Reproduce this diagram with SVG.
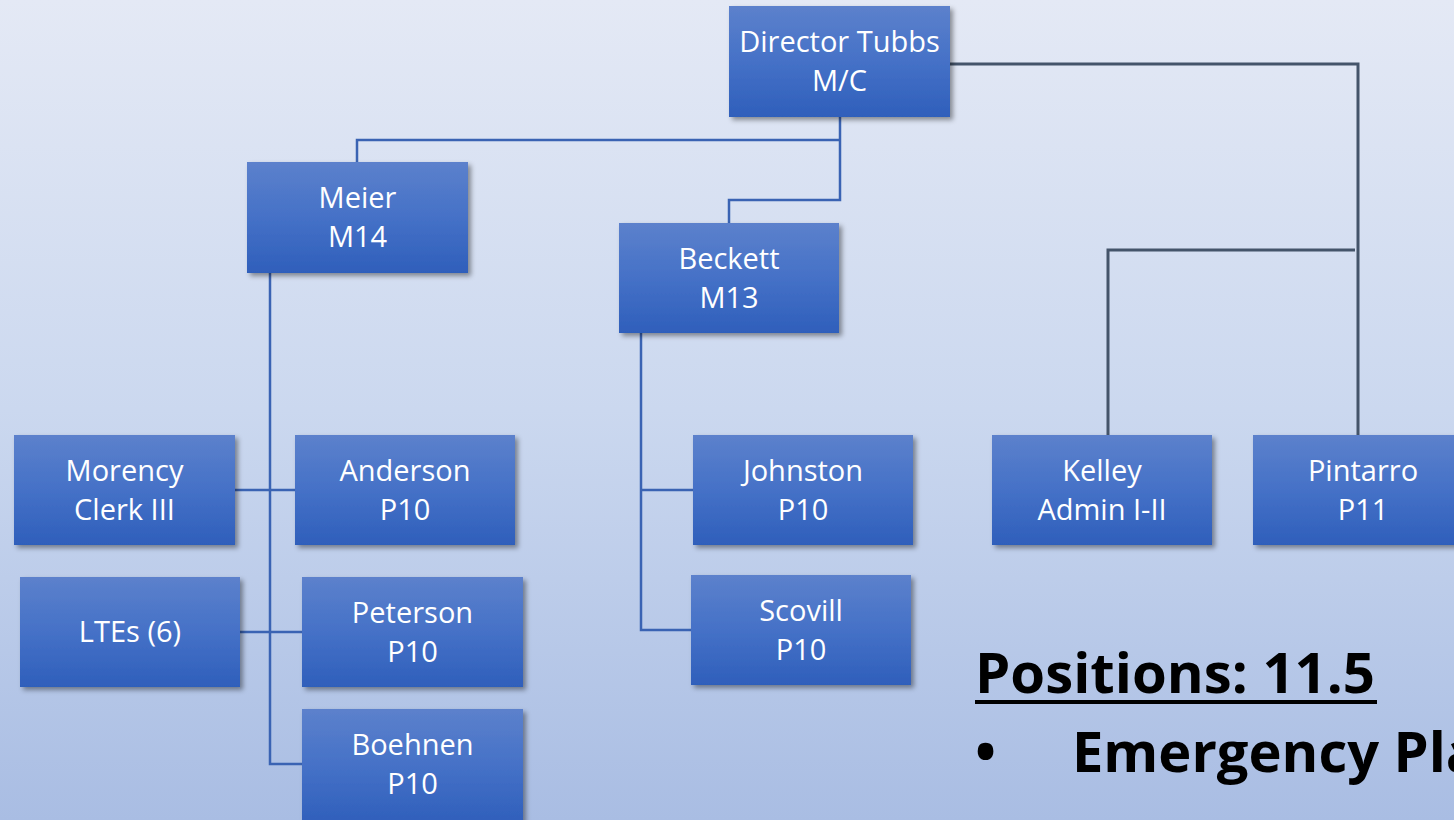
<svg xmlns="http://www.w3.org/2000/svg" width="1454" height="820" viewBox="0 0 1454 820">
<defs>
<linearGradient id="bg" x1="0" y1="0" x2="0" y2="1">
<stop offset="0" stop-color="#e4e9f5"/>
<stop offset="0.5" stop-color="#cbd8ef"/>
<stop offset="1" stop-color="#a9bde3"/>
</linearGradient>
<linearGradient id="box" x1="0" y1="0" x2="0" y2="1">
<stop offset="0" stop-color="#5c81cc"/>
<stop offset="0.5" stop-color="#4571c7"/>
<stop offset="1" stop-color="#2f5fbb"/>
</linearGradient>
<filter id="sh" x="-10%" y="-10%" width="130%" height="140%">
<feDropShadow dx="3" dy="3" stdDeviation="2.5" flood-color="#000" flood-opacity="0.4"/>
</filter>
</defs>
<style>
.b{fill:url(#box);filter:url(#sh);}
.t{font-family:"Open Sans","Liberation Sans",sans-serif;font-size:29px;fill:#ffffff;text-anchor:middle;}
.c{fill:none;stroke:#3a63b3;stroke-width:2.5;}
.d{fill:none;stroke:#44546a;stroke-width:3;}
.big{font-family:"Open Sans","Liberation Sans",sans-serif;font-weight:bold;font-size:56px;fill:#000;}
</style>
<rect width="1454" height="820" fill="url(#bg)"/>
<g id="connectors">
<path class="c" d="M840 117 V200 H729 V223"/>
<path class="c" d="M840 140 H357 V162"/>
<path class="c" d="M270 273 V764 H302"/>
<path class="c" d="M235 490 H295"/>
<path class="c" d="M240 632 H302"/>
<path class="c" d="M641 333 V630 H691"/>
<path class="c" d="M641 490 H693"/>
<path class="d" d="M950 64 H1358 V435"/>
<path class="d" d="M1355 250 H1108 V435"/>
</g>
<g id="director"><rect class="b" x="729" y="6" width="221" height="111"/><text class="t" x="839.5" y="52">Director Tubbs</text><text class="t" x="839.5" y="91">M/C</text></g>
<g id="meier"><rect class="b" x="247" y="162" width="221" height="111"/><text class="t" x="357.5" y="208">Meier</text><text class="t" x="357.5" y="247">M14</text></g>
<g id="beckett"><rect class="b" x="619" y="223" width="220" height="110"/><text class="t" x="729" y="268.5">Beckett</text><text class="t" x="729" y="307.5">M13</text></g>
<g id="morency"><rect class="b" x="14" y="435" width="221" height="110"/><text class="t" x="124.5" y="480.5">Morency</text><text class="t" x="124.5" y="519.5">Clerk III</text></g>
<g id="anderson"><rect class="b" x="295" y="435" width="220" height="110"/><text class="t" x="405" y="480.5">Anderson</text><text class="t" x="405" y="519.5">P10</text></g>
<g id="johnston"><rect class="b" x="693" y="435" width="220" height="110"/><text class="t" x="803" y="480.5">Johnston</text><text class="t" x="803" y="519.5">P10</text></g>
<g id="kelley"><rect class="b" x="992" y="435" width="220" height="110"/><text class="t" x="1102" y="480.5">Kelley</text><text class="t" x="1102" y="519.5">Admin I-II</text></g>
<g id="pintarro"><rect class="b" x="1253" y="435" width="220" height="110"/><text class="t" x="1363" y="480.5">Pintarro</text><text class="t" x="1363" y="519.5">P11</text></g>
<g id="ltes"><rect class="b" x="20" y="577" width="220" height="110"/><text class="t" x="130" y="642">LTEs (6)</text></g>
<g id="peterson"><rect class="b" x="302" y="577" width="221" height="110"/><text class="t" x="412.5" y="622.5">Peterson</text><text class="t" x="412.5" y="661.5">P10</text></g>
<g id="scovill"><rect class="b" x="691" y="575" width="220" height="110"/><text class="t" x="801" y="620.5">Scovill</text><text class="t" x="801" y="659.5">P10</text></g>
<g id="boehnen"><rect class="b" x="302" y="709" width="221" height="115"/><text class="t" x="412.5" y="755">Boehnen</text><text class="t" x="412.5" y="794">P10</text></g>
<g id="positions">
<text class="big" x="975" y="693" textLength="400" lengthAdjust="spacingAndGlyphs">Positions: 11.5</text>
<rect x="975" y="700" width="402" height="4" fill="#000"/>
<text class="big" x="975" y="772">•</text>
<text class="big" x="1072" y="772">Emergency Pla</text>
</g>
</svg>
